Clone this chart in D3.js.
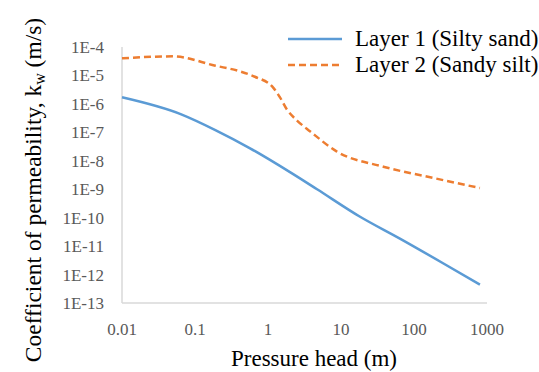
<!DOCTYPE html>
<html>
<head>
<meta charset="utf-8">
<script src="https://cdn.jsdelivr.net/npm/d3@7"></script>
<style>
  body { margin: 0; background: #fff; }
</style>
</head>
<body>
<svg id="chart" width="539" height="372" style="font-family: 'Liberation Serif', 'DejaVu Serif', 'Times New Roman', Times, serif;"></svg>
<script>
// pressure head (m) vs coefficient of permeability (m/s)
const layer1Head = [0.01, 0.066, 0.19, 0.56, 2, 4.7, 18, 65, 250, 800];
const layer1K = [1.7e-6, 4.2e-7, 1.2e-7, 2.8e-8, 4e-9, 1e-9, 1.1e-10, 1.8e-11, 2.5e-12, 4.4e-13];

const layer2Head = [0.01, 0.05, 0.19, 0.41, 0.66, 1.17, 1.46, 1.82, 2.5, 3.8, 8.8, 38, 182, 800];
const layer2K = [4.0e-5, 4.7e-5, 2.2e-5, 1.4e-5, 9.0e-6, 3.8e-6, 1.7e-6, 6.3e-7, 2.6e-7, 1.07e-7, 2.1e-8, 6.2e-9, 2.5e-9, 1.1e-9];

const xTicks = [0.01, 0.1, 1, 10, 100, 1000];
const yTicks = [1e-4, 1e-5, 1e-6, 1e-7, 1e-8, 1e-9, 1e-10, 1e-11, 1e-12, 1e-13];
const seriesNames = ["Layer 1 (Silty sand)", "Layer 2 (Sandy silt)"];

const svg = d3.select('#chart');
const plotL = 122, plotR = 487, plotT = 47, plotB = 303;

const x = d3.scaleLog().domain([0.01, 1000]).range([plotL, plotR]);
const y = d3.scaleLog().domain([1e-13, 1e-4]).range([plotB, plotT]);

// axis lines only, no tick marks
svg.append('line').attr('x1', plotL).attr('x2', plotL).attr('y1', plotT).attr('y2', plotB)
  .attr('stroke', '#d9d9d9').attr('stroke-width', 1.5);
svg.append('line').attr('x1', plotL).attr('x2', plotR).attr('y1', plotB).attr('y2', plotB)
  .attr('stroke', '#d9d9d9').attr('stroke-width', 1.5);

svg.selectAll('.ylab').data(yTicks).enter().append('text')
  .attr('x', 104).attr('y', d => y(d) + 6)
  .attr('text-anchor', 'end').attr('font-size', 17).attr('fill', '#595959')
  .text(d => '1E' + Math.round(Math.log10(d)));

svg.selectAll('.xlab').data(xTicks).enter().append('text')
  .attr('x', d => x(d)).attr('y', 335)
  .attr('text-anchor', 'middle').attr('font-size', 17).attr('fill', '#595959')
  .text(d => d >= 1 ? d3.format('d')(d) : String(d));

// titles
svg.append('text').attr('x', 314).attr('y', 366)
  .attr('text-anchor', 'middle').attr('font-size', 23).attr('fill', '#000')
  .text('Pressure head (m)');

const yt = svg.append('text').attr('transform', 'translate(41,190) rotate(-90)')
  .attr('text-anchor', 'middle').attr('font-size', 23.5).attr('fill', '#000');
yt.append('tspan').text('Coefficient of permeability, k');
yt.append('tspan').attr('font-size', 16).attr('dy', 4).text('w');
yt.append('tspan').attr('dy', -4).text(' (m/s)');

const line = d3.line()
  .x(d => x(d[0])).y(d => y(d[1]))
  .curve(d3.curveMonotoneX);

svg.append('path').datum(d3.zip(layer1Head, layer1K))
  .attr('d', line).attr('fill', 'none')
  .attr('stroke', '#5b9bd5').attr('stroke-width', 2.5);

svg.append('path').datum(d3.zip(layer2Head, layer2K))
  .attr('d', line).attr('fill', 'none')
  .attr('stroke', '#ed7d31').attr('stroke-width', 2.5)
  .attr('stroke-dasharray', '7,4');

// legend
const legend = svg.append('g');
[0, 1].forEach(i => {
  const ly = 39 + i * 26;
  legend.append('line').attr('x1', 288).attr('x2', 342).attr('y1', ly).attr('y2', ly)
    .attr('stroke', i === 0 ? '#5b9bd5' : '#ed7d31').attr('stroke-width', 2.5)
    .attr('stroke-dasharray', i === 0 ? null : '7,4');
  legend.append('text').attr('x', 355).attr('y', ly + 7)
    .attr('font-size', 23).attr('fill', '#000')
    .text(seriesNames[i]);
});
</script>
</body>
</html>
